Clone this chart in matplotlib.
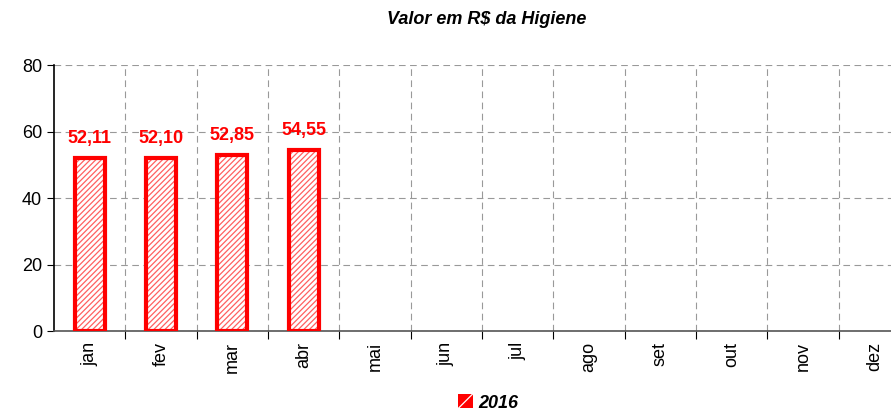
import matplotlib.pyplot as plt
from matplotlib.patches import Patch

months = ['jan', 'fev', 'mar', 'abr', 'mai', 'jun', 'jul', 'ago', 'set', 'out', 'nov', 'dez']
values_2016 = [52.11, 52.10, 52.85, 54.55]
y_ticks = [0, 20, 40, 60, 80]

plt.rcParams['font.family'] = ['Liberation Sans', 'DejaVu Sans']
plt.rcParams['hatch.linewidth'] = 0.9

fig = plt.figure(figsize=(8.91, 4.13), dpi=100)
ax = fig.add_axes([54 / 891, 1 - 331 / 413, 856 / 891, 266 / 413])

x = list(range(len(values_2016)))
# hatched fill, then a thick red outline on top
ax.bar(x, values_2016, width=0.42, facecolor='white', edgecolor='#ff6060',
       linewidth=0, hatch='//////', zorder=3)
ax.bar(x, values_2016, width=0.42, facecolor='none', edgecolor='red',
       linewidth=3, zorder=3)
for xi, v in zip(x, values_2016):
    ax.text(xi, v + 3.3, f"{v:.2f}".replace('.', ','), ha='center', va='bottom',
            color='red', fontsize=13, fontweight='bold', zorder=4)

ax.set_xlim(-0.5, len(months) - 0.5)
ax.set_ylim(0, 80)
ax.set_yticks(y_ticks)
ax.tick_params(axis='y', labelsize=13, direction='out', length=5, width=0.8)

# category boundaries carry the ticks and vertical grid
bounds = [i + 0.5 for i in range(len(months))]
ax.set_xticks(bounds)
ax.set_xticklabels([])
ax.set_xticks(range(len(months)), minor=True)
ax.set_xticklabels(months, minor=True, rotation=90, fontsize=13)
ax.tick_params(axis='x', which='minor', length=0, pad=8)
ax.tick_params(axis='x', which='major', direction='out', length=6, width=0.8)

ax.grid(True, which='major', color='#999999', linestyle=(0, (6, 4)), linewidth=0.8, zorder=0)
for s in ['top', 'right']:
    ax.spines[s].set_visible(False)
ax.spines['left'].set_linewidth(1.2)
ax.spines['bottom'].set_linewidth(1.2)
ax.spines['bottom'].set_color('#555555')

fig.text(487 / 891, 1 - 20 / 413, 'Valor em R$ da Higiene', ha='center', va='center',
         fontsize=13, fontweight='bold', fontstyle='italic')

handle = Patch(facecolor='red', edgecolor='white', hatch='/', linewidth=0, label='2016')
fig.legend(handles=[handle], loc='center', bbox_to_anchor=(488 / 891, 1 - 403 / 413),
           frameon=False, prop={'weight': 'bold', 'style': 'italic', 'size': 13},
           handlelength=0.8, handleheight=0.8, handletextpad=0.3)

fig.savefig('out.png', dpi=100)
